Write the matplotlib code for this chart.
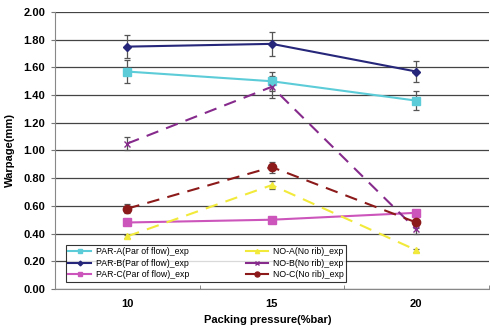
import matplotlib.pyplot as plt

plt.rcParams['font.family'] = ['Liberation Sans', 'DejaVu Sans']

# Data
pressures = ["10", "15", "20"]
labels = ["PAR-A(Par of flow)_exp", "PAR-B(Par of flow)_exp",
          "PAR-C(Par of flow)_exp", "NO-A(No rib)_exp",
          "NO-B(No rib)_exp", "NO-C(No rib)_exp"]
par_a = [1.57, 1.50, 1.36]
par_b = [1.75, 1.77, 1.57]
par_c = [0.48, 0.50, 0.55]
no_a = [0.38, 0.75, 0.28]
no_b = [1.05, 1.46, 0.43]
no_c = [0.58, 0.88, 0.48]
err_a = [0.08, 0.07, 0.07]
err_b = [0.085, 0.085, 0.075]
err_c = [0.02, 0.02, 0.02]
err_no_a = [0.01, 0.03, 0.01]
err_no_b = [0.05, 0.08, 0.03]
err_no_c = [0.03, 0.04, 0.04]

series = [par_a, par_b, par_c, no_a, no_b, no_c]
errors = [err_a, err_b, err_c, err_no_a, err_no_b, err_no_c]
colors = ["#5cccd8", "#26267a", "#cc55bb", "#f2ea3a", "#862a8c", "#8c1a1a"]
markers = ["s", "D", "s", "^", "x", "o"]
msizes = [6, 4, 6, 5, 5, 6]
styles = ["-", "-", "-", "--", "--", "--"]

fig = plt.figure(figsize=(4.9, 3.31), dpi=100)
ax = fig.add_axes([0.1122, 0.127, 0.885, 0.8367])

x = range(len(pressures))
for vals, err, c, m, ms, ls, lab in zip(series, errors, colors, markers, msizes, styles, labels):
    ax.errorbar(x, vals, yerr=err, fmt='none', ecolor='#555555', elinewidth=0.9,
                capsize=2.5, capthick=0.9, zorder=2)
    ax.plot(x, vals, color=c, marker=m, markersize=ms, linestyle=ls, lw=1.5,
            label=lab, zorder=3, dashes=(6, 4) if ls == "--" else (None, None))

ax.set_xlim(-0.5, 2.5)
ax.set_ylim(0, 2.0)
ax.set_yticks([i * 0.2 for i in range(11)])
ax.set_yticklabels([f"{i * 0.2:.2f}" for i in range(11)], fontsize=8, fontweight='bold')
ax.set_xticks(list(x))
ax.set_xticklabels(pressures, fontsize=8, fontweight='bold')
ax.set_xticks([-0.5, 0.5, 1.5, 2.5], minor=True)
ax.tick_params(axis='x', which='major', length=0, pad=7)
ax.tick_params(axis='x', which='minor', length=3, direction='in', color='#777777')
ax.tick_params(axis='y', length=3, color='#777777', pad=4)

ax.grid(axis='y', color='#444444', lw=0.9)
ax.set_axisbelow(True)
for s in ['top', 'right']:
    ax.spines[s].set_visible(False)
for s in ['left', 'bottom']:
    ax.spines[s].set_color('#888888')

ax.set_ylabel("Warpage(mm)", fontsize=8, fontweight='bold', labelpad=6)
ax.set_xlabel("Packing pressure(%bar)", fontsize=8, fontweight='bold')
ax.xaxis.set_label_coords(0.49, -0.095)

leg = ax.legend(ncol=2, loc='lower left', bbox_to_anchor=(0.016, 0.011),
                fontsize=6.3, frameon=True, fancybox=False, edgecolor='black',
                handlelength=2.6, labelspacing=0.3, columnspacing=6.5,
                markerscale=0.6, borderpad=0.25, handletextpad=0.5)
leg.get_frame().set_linewidth(0.8)
leg.set_zorder(5)
# legend handles drawn as solid lines, like the original
for h in leg.get_lines():
    h.set_linestyle('-')

fig.savefig("out.png", dpi=100)
